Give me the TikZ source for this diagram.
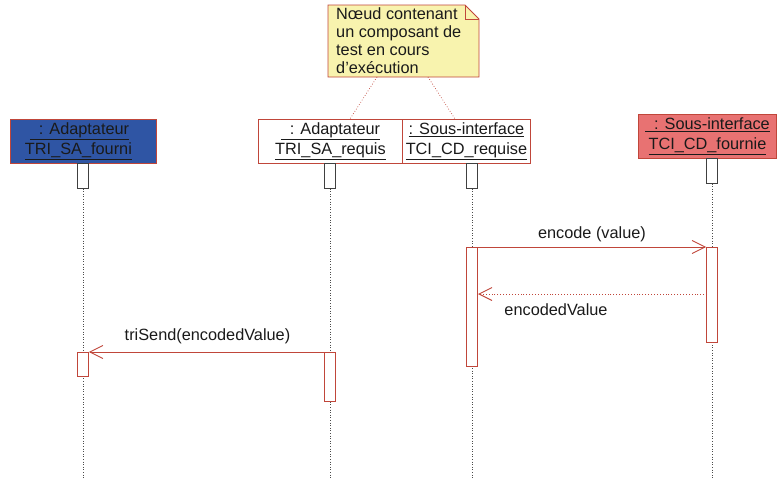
\documentclass[tikz,border=0pt]{standalone}
\usepackage{fontspec}
\setmainfont{Liberation Sans}
\usetikzlibrary{arrows.meta}
\definecolor{umlred}{HTML}{C0463A}
\definecolor{objblue}{HTML}{2F55A4}
\definecolor{objpink}{HTML}{E87272}
\definecolor{notefill}{HTML}{F8F3AE}
\definecolor{textgray}{HTML}{1A1A1A}
\tikzset{
  x=1pt, y=-1pt,
  every node/.style={font=\fontsize{16.3}{18}\selectfont, text=textgray},
  objbox/.style={draw=umlred, line width=0.9pt, minimum height=44pt, inner sep=0pt, align=center},
  headbox/.style={draw=black!75, fill=white, line width=0.6pt, minimum width=11pt, minimum height=25pt, inner sep=0pt},
  actbox/.style={draw=umlred, fill=white, line width=0.9pt, minimum width=11pt, inner sep=0pt},
  lifeline/.style={draw=black!70, dotted, line width=0.6pt},
  msg/.style={draw=umlred, line width=0.9pt, -{Straight Barb[length=13pt,width=13pt,line width=0.9pt]}},
  ret/.style={draw=umlred, dotted, line width=0.9pt, -{Straight Barb[length=13pt,width=13pt,line width=0.9pt]}},
  notelink/.style={draw=umlred, dotted, line width=0.7pt},
}
\begin{document}
\begin{tikzpicture}
\useasboundingbox (0,0) rectangle (779,479);

% object heads
\node[objbox, fill=objblue, minimum width=146pt, anchor=north west] (o1) at (10,119)
  {\underline{\ \ : Adaptateur}\hspace*{8pt}\\[2pt]\underline{TRI\_SA\_fourni}\hspace*{10pt}};
\node[objbox, fill=white, minimum width=144pt, anchor=north west] (o2) at (258,119)
  {\underline{\ \ : Adaptateur}\\[2pt]\underline{TRI\_SA\_requis}};
\node[objbox, fill=white, minimum width=128pt, anchor=north west] (o3) at (402,119)
  {\underline{: Sous-interface}\\[2pt]\underline{TCI\_CD\_requise}};
\node[objbox, fill=objpink, minimum width=138pt, anchor=north west] (o4) at (638,114)
  {\underline{\ \ : Sous-interface}\\[2pt]\underline{TCI\_CD\_fournie}};

% small boxes under each head
\node[headbox, anchor=north] (h1) at (83,163) {};
\node[headbox, anchor=north] (h2) at (330,163) {};
\node[headbox, anchor=north] (h3) at (472,163) {};
\node[headbox, anchor=north] (h4) at (712,158) {};

% lifelines
\coordinate (e1) at (83,479);
\coordinate (e2) at (330,479);
\coordinate (e3) at (472,479);
\coordinate (e4) at (712,479);
\draw[lifeline] (h1.south) -- (e1);
\draw[lifeline] (h2.south) -- (e2);
\draw[lifeline] (h3.south) -- (e3);
\draw[lifeline] (h4.south) -- (e4);

% activations
\node[actbox, minimum height=119pt, anchor=north] (a3) at (472,247) {};
\node[actbox, minimum height=95pt, anchor=north] (a4) at (712,247) {};
\node[actbox, minimum height=49pt, anchor=north] (a2) at (330,352) {};
\node[actbox, minimum height=24pt, anchor=north] (a1) at (83,352) {};

% messages
\draw[msg] (a3.north east) -- node[above=1pt] {encode (value)} (a4.north west);
\coordinate (r4) at (707,294);
\coordinate (r3) at (478,294);
\draw[ret] (r4) -- (r3);
\node (rl) at (556,310) {encodedValue};
\draw[msg] (a2.north west) -- node[above=4pt, xshift=1pt] {triSend(encodedValue)} (a1.north east);

% note with folded corner
\coordinate (n1) at (328,5);
\coordinate (n2) at (465,5);
\coordinate (n3) at (479,19);
\coordinate (n4) at (479,77);
\coordinate (n5) at (328,77);
\fill[notefill] (n1) -- (n2) -- (n3) -- (n4) -- (n5) -- cycle;
\draw[umlred, line width=0.9pt] (n1) -- (n2) -- (n3) -- (n4) -- (n5) -- cycle;
\draw[umlred, line width=0.7pt] (n2) -- (465,19) -- (n3);
\node[anchor=north west, align=left, inner sep=0pt, font=\fontsize{16.3}{18}\selectfont] (note) at (336,7)
  {Nœud contenant\\un composant de\\test en cours\\d'exécution};

% note links
\coordinate (l1) at (377,77);
\coordinate (l2) at (428,77);
\coordinate (t1) at (350,119);
\coordinate (t2) at (455,119);
\draw[notelink] (l1) -- (t1);
\draw[notelink] (l2) -- (t2);
\end{tikzpicture}
\end{document}
